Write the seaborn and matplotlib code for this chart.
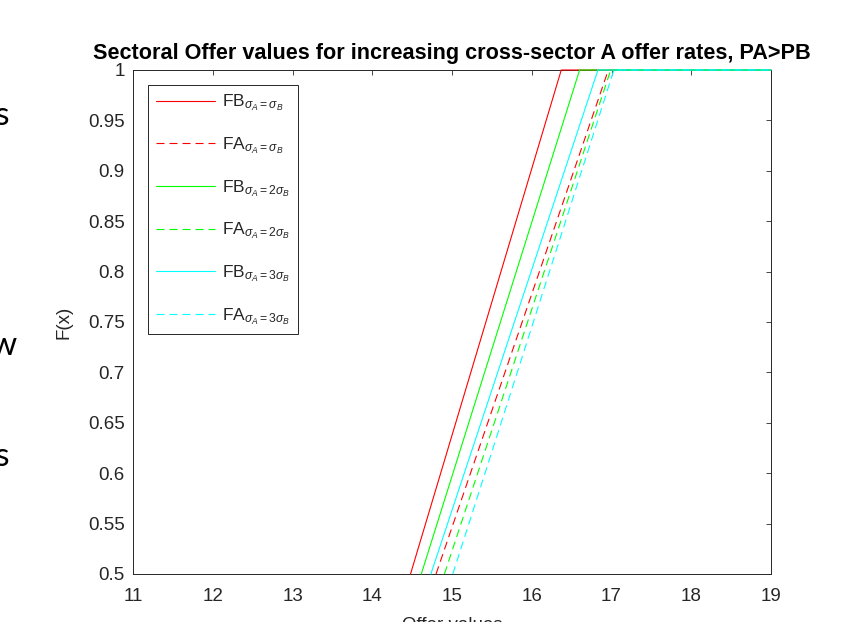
"""
Sectoral offer values (MATLAB-style CDF plot) redrawn with seaborn
"""

import numpy as np
import pandas as pd
import matplotlib
matplotlib.use("Agg")
import matplotlib.pyplot as plt
from matplotlib.ticker import FuncFormatter
import seaborn as sns

# Data
series = [
    r'FB$_{\sigma_A=\sigma_B}$',
    r'FA$_{\sigma_A=\sigma_B}$',
    r'FB$_{\sigma_A=2\sigma_B}$',
    r'FA$_{\sigma_A=2\sigma_B}$',
    r'FB$_{\sigma_A=3\sigma_B}$',
    r'FA$_{\sigma_A=3\sigma_B}$',
]
colors = ['#ff0000', '#ff0000', '#00ff00', '#00ff00', '#00ffff', '#00ffff']
dashed = [False, True, False, True, False, True]
# offer value where F(x) = 0.5 and where F(x) reaches 1
x_at_half = [14.48, 14.80, 14.615, 14.905, 14.735, 15.01]
x_at_one = [16.37, 16.96, 16.60, 16.99, 16.83, 17.03]
x_end = 19.0

xticks = [11, 12, 13, 14, 15, 16, 17, 18, 19]
yticks = [0.5, 0.55, 0.6, 0.65, 0.7, 0.75, 0.8, 0.85, 0.9, 0.95, 1.0]

title = 'Sectoral Offer values for increasing cross-sector A offer rates, PA>PB'
xlabel = 'Offer values'
ylabel = 'F(x)'
slide_bits = [('s', 9, 116), ('w', 17, 346), ('s', 9, 457)]  # cut-off slide text at left edge

# build long table
rows = []
for name, a, b in zip(series, x_at_half, x_at_one):
    rows.append({'x': a, 'F': 0.5, 'series': name})
    rows.append({'x': b, 'F': 1.0, 'series': name})
    rows.append({'x': x_end, 'F': 1.0, 'series': name})
df = pd.DataFrame(rows)

sns.set_theme(style='white')
plt.rcParams['font.family'] = ['Liberation Sans', 'DejaVu Sans']
plt.rcParams['mathtext.fontset'] = 'custom'
plt.rcParams['mathtext.rm'] = 'Liberation Sans'
plt.rcParams['mathtext.it'] = 'Liberation Sans:italic'

W, H = 846, 622
fig = plt.figure(figsize=(W / 100, H / 100), dpi=100)
ax = fig.add_axes([133 / W, 1 - 574 / H, 638 / W, 504 / H])

axcol = '#262626'
palette = dict(zip(series, colors))
dashes = {s: ((7.2, 4.5) if d else '') for s, d in zip(series, dashed)}

sns.lineplot(data=df, x='x', y='F', hue='series', style='series',
             hue_order=series, style_order=series,
             palette=palette, dashes=dashes, sort=False, estimator=None,
             linewidth=0.8, ax=ax)
for ln in ax.get_lines():
    ln.set_clip_on(False)
    ln.set_zorder(3)

ax.set_xlim(11, 19)
ax.set_ylim(0.5, 1)
ax.set_xticks(xticks)
ax.set_yticks(yticks)
ax.yaxis.set_major_formatter(FuncFormatter(lambda v, p: f'{v:g}'))
ax.tick_params(direction='in', length=3.6, width=0.6, colors=axcol,
               labelsize=13.5, top=True, right=True)
ax.tick_params(axis='x', pad=10)
ax.tick_params(axis='y', pad=6)
for sp in ax.spines.values():
    sp.set_color(axcol)
    sp.set_linewidth(0.7)

ax.set_title(title, fontsize=15.6, fontweight='bold', color='black', pad=8)
ax.set_xlabel(xlabel, fontsize=13.5, color=axcol, labelpad=9)
ax.set_ylabel(ylabel, fontsize=13.5, color=axcol, labelpad=11)

handles, labels = ax.get_legend_handles_labels()
leg = ax.legend(handles, labels, loc='upper left',
                bbox_to_anchor=(15 / 638, 1 - 15 / 504), borderaxespad=0,
                fontsize=12.5, handlelength=3.4, handletextpad=0.4,
                labelspacing=1.27, borderpad=0.45, fancybox=False,
                framealpha=1, edgecolor=axcol)
leg.get_frame().set_linewidth(0.7)
for lh in leg.get_lines():
    lh.set_linewidth(0.8)

for txt, px, py in slide_bits:
    fig.text(px / W, 1 - py / H, txt, ha='right', va='center',
             fontsize=24, family='Lato', color='black')

fig.savefig('out.png', dpi=100)
